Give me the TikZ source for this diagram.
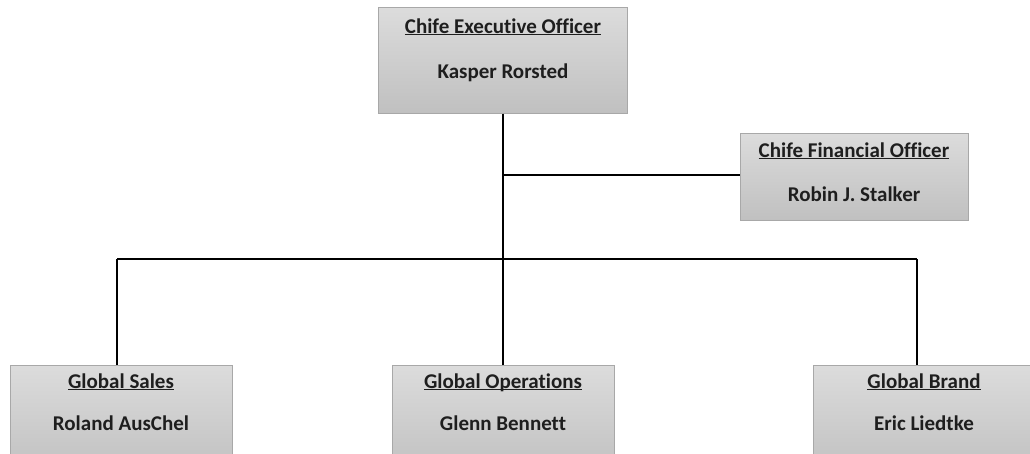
\documentclass[tikz,border=0pt]{standalone}
\usepackage{fontspec}
\setmainfont{Carlito}[Ligatures=NoCommon]
\definecolor{boxtop}{HTML}{DCDCDC}
\definecolor{boxbot}{HTML}{C0C0C0}
\definecolor{boxline}{HTML}{A8A8A8}
\definecolor{txt}{HTML}{1E1E1E}
\begin{document}
\begin{tikzpicture}[x=1pt,y=-1pt,
  orgbox/.style={draw=boxline, line width=1pt, top color=boxtop, bottom color=boxbot, inner sep=0pt},
  ttl/.style={font=\fontsize{21}{24}\selectfont\bfseries, text=txt, inner sep=0pt, text height=15pt, text depth=6pt},
  nm/.style={font=\fontsize{21}{24}\selectfont\bfseries, text=txt, inner sep=0pt, text height=15pt, text depth=5pt},
  conn/.style={line width=2pt, black}]
\clip (0,0) rectangle (1030,453);
\fill[white] (0,0) rectangle (1030,453);
% boxes
\node[orgbox, minimum width=249pt, minimum height=106pt] (ceo) at (503,60) {};
\node[orgbox, minimum width=228pt, minimum height=87pt] (cfo) at (854,176.5) {};
\node[orgbox, minimum width=222pt, minimum height=110pt] (sales) at (121,420) {};
\node[orgbox, minimum width=222pt, minimum height=110pt] (ops) at (503,420) {};
\node[orgbox, minimum width=222pt, minimum height=110pt] (brand) at (924,420) {};
% texts
\node[ttl] (ceot) at ([yshift=-22pt]ceo.north) {\underline{Chife Executive Officer}};
\node[nm] (ceon) at ([yshift=-67pt]ceo.north) {Kasper Rorsted};
\node[ttl] (cfot) at ([yshift=-20pt]cfo.north) {\underline{Chife Financial Officer}};
\node[nm] (cfon) at ([yshift=-64pt]cfo.north) {Robin J. Stalker};
\node[ttl] (salest) at ([yshift=-19pt]sales.north) {\underline{Global Sales}};
\node[nm] (salesn) at ([yshift=-61pt]sales.north) {Roland AusChel};
\node[ttl] (opst) at ([yshift=-19pt]ops.north) {\underline{Global O\smash{p}erations}};
\node[nm] (opsn) at ([yshift=-61pt]ops.north) {Glenn Bennett};
\node[ttl] (brandt) at ([yshift=-19pt]brand.north) {\underline{Global Brand}};
\node[nm] (brandn) at ([yshift=-61pt]brand.north) {Eric Liedtke};
% connectors
\coordinate (cfoj) at (503,175);
\coordinate (barl) at (117,259);
\coordinate (barr) at (917,259);
\draw[conn] (ceo.south) -- (ops.north);
\draw[conn] (cfoj) -- (cfoj -| cfo.west);
\draw[conn] (barl) -- (barr);
\draw[conn] (barl) -- (barl |- sales.north);
\draw[conn] (barr) -- (barr |- brand.north);
\end{tikzpicture}
\end{document}
